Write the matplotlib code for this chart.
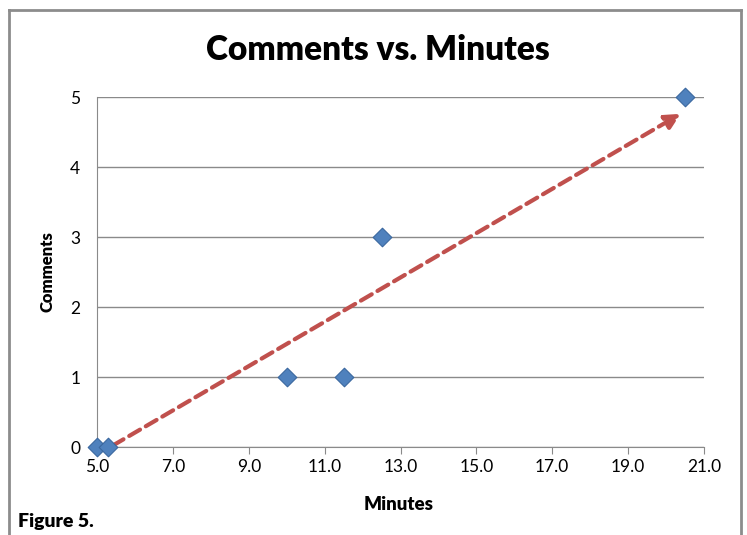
import matplotlib.pyplot as plt
from matplotlib.lines import Line2D

minutes = [5.0, 5.3, 10.0, 11.5, 12.5, 20.5]
comments = [0, 0, 1, 1, 3, 5]
arrow_start = (5.35, 0.0)
arrow_end = (20.45, 4.78)
x_ticks = [5.0, 7.0, 9.0, 11.0, 13.0, 15.0, 17.0, 19.0, 21.0]
y_ticks = [0, 1, 2, 3, 4, 5]

plt.rcParams['font.family'] = ['Lato', 'DejaVu Sans']

fig = plt.figure(figsize=(7.47, 5.35), dpi=100)
ax = fig.add_axes([97 / 747, 1 - 447 / 535, 607 / 747, 350 / 535])

# chart frame
for xs, ys in [([9 / 747, 9 / 747], [0, 1 - 10 / 535]),
               ([9 / 747, 741 / 747], [1 - 10 / 535, 1 - 10 / 535]),
               ([741 / 747, 741 / 747], [1 - 10 / 535, 0])]:
    fig.add_artist(Line2D(xs, ys, color='#8c8c8c', linewidth=2))

ax.set_xlim(5.0, 21.0)
ax.set_ylim(0, 5)
ax.set_xticks(x_ticks)
ax.set_xticklabels([f'{t:.1f}' for t in x_ticks])
ax.set_yticks(y_ticks)
ax.grid(axis='y', color='#8a8a8a', linewidth=1)
ax.set_axisbelow(True)
for s in ['top', 'right']:
    ax.spines[s].set_visible(False)
for s in ['left', 'bottom']:
    ax.spines[s].set_color('#8a8a8a')
ax.tick_params(axis='x', direction='out', length=5, color='#8a8a8a', labelsize=12.5, pad=4)
ax.tick_params(axis='y', length=0, labelsize=12.5, pad=12)

ax.annotate('', xy=arrow_end, xytext=arrow_start,
            arrowprops=dict(arrowstyle='-|>,head_length=0.9,head_width=0.45',
                            color='#C0504D', lw=3, linestyle=(0, (3, 1.6))),
            zorder=3)

ax.scatter(minutes, comments, marker='D', s=90, color='#4F81BD',
           edgecolor='#3a679f', linewidth=0.8, zorder=4, clip_on=False)

fig.text(378 / 747, 1 - 50 / 535, 'Comments vs. Minutes', ha='center', va='center',
         fontsize=24, fontweight='heavy')
fig.text(48 / 747, 1 - 272 / 535, 'Comments', ha='center', va='center',
         rotation=90, fontsize=12, fontweight='heavy')
fig.text(399 / 747, 1 - 504 / 535, 'Minutes', ha='center', va='center',
         fontsize=13.5, fontweight='heavy')
fig.text(18 / 747, 1 - 521 / 535, 'Figure 5.', ha='left', va='center',
         fontsize=14, fontweight='heavy')

fig.savefig('out.png', dpi=100)
